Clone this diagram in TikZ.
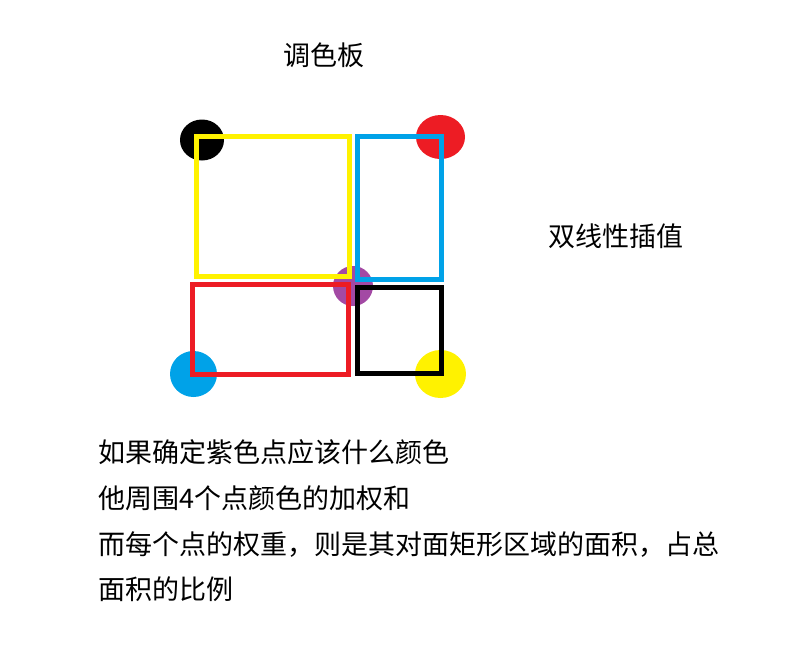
\documentclass[tikz,border=0pt]{standalone}
\usepackage{fontspec}
\setmainfont{Noto Sans CJK SC}
\usetikzlibrary{shapes.geometric}
\definecolor{pblack}{RGB}{0,0,0}
\definecolor{pred}{RGB}{237,28,36}
\definecolor{pcyan}{RGB}{0,162,232}
\definecolor{pyellow}{RGB}{255,242,0}
\definecolor{ppurple}{RGB}{163,73,164}
\tikzset{
  dot/.style={ellipse, inner sep=0pt, fill=#1},
  frame/.style={draw=#1, line width=5pt},
  label/.style={anchor=base west, inner sep=0pt, font=\fontsize{27}{27}\selectfont}
}

\begin{document}
\begin{tikzpicture}[x=1pt, y=-1pt]
      \useasboundingbox (0,0) rectangle (804,649);
      \node[label, anchor=base] (title) at (324,65) {调色板};
      \node[label] (method) at (548,246) {双线性插值};
      % corner colours and the point in between
      \node[dot=pblack, minimum width=44pt, minimum height=41pt] (c1) at (202,140) {};
      \node[dot=pred, minimum width=49pt, minimum height=44pt] (c2) at (440.5,137) {};
      \node[dot=pcyan, minimum width=47pt, minimum height=46pt] (c3) at (193.5,374) {};
      \node[dot=pyellow, minimum width=51pt, minimum height=48pt] (c4) at (440.5,374) {};
      \node[dot=ppurple, minimum width=40pt, minimum height=40pt] (p) at (353,286) {};
      % opposite areas
      \draw[frame=pyellow] (196.5,136.5) rectangle (349.5,276.5);
      \draw[frame=pcyan] (357.5,136.5) rectangle (441.5,279.5);
      \draw[frame=pred] (192.5,284.5) rectangle (348.5,374.5);
      \draw[frame=pblack] (357.5,287.5) rectangle (441.5,373.5);
      \node[label] (l1) at (98,462) {如果确定紫色点应该什么颜色};
      \node[label] (l2) at (98,508) {他周围4个点颜色的加权和};
      \node[label] (l3) at (98,554) {而每个点的权重，则是其对面矩形区域的面积，占总};
      \node[label] (l4) at (98,599) {面积的比例};
\end{tikzpicture}
\end{document}
